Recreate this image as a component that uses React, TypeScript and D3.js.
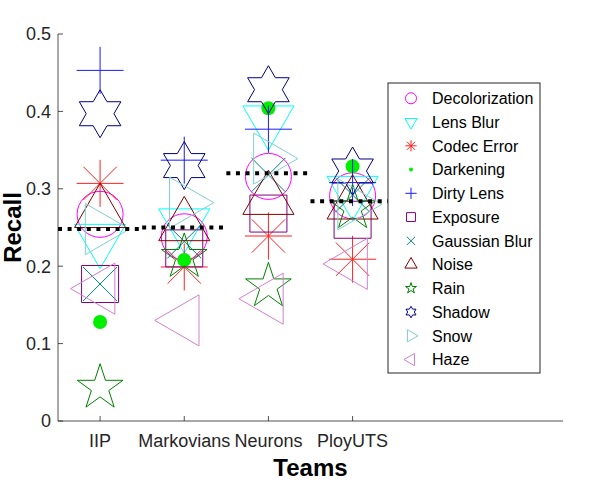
import React from "react";
import * as d3 from "d3";

const teams = ["IIP", "Markovians", "Neurons", "PloyUTS"];
const yTicks = [0, 0.1, 0.2, 0.3, 0.4, 0.5];

// Recall per degradation, one value per team
const decolorization = [0.267, 0.238, 0.316, 0.291];
const lensBlur = [0.235, 0.255, 0.388, 0.297];
const codecError = [0.307, 0.199, 0.239, 0.209];
const darkening = [0.128, 0.208, 0.404, 0.329];
const dirtyLens = [0.453, 0.337, 0.377, 0.308];
const exposure = [0.177, 0.223, 0.268, 0.26];
const gaussianBlur = [0.177, 0.232, 0.318, 0.292];
const noise = [0.269, 0.252, 0.286, 0.28];
const rain = [0.043, 0.212, 0.174, 0.275];
const shadow = [0.397, 0.33, 0.428, 0.323];
const snow = [0.248, 0.282, 0.339, 0.28];
const haze = [0.171, 0.13, 0.158, 0.203];
const teamMeans = [0.248, 0.25, 0.32, 0.284];

const seriesNames = [
  "Decolorization", "Lens Blur", "Codec Error", "Darkening", "Dirty Lens", "Exposure",
  "Gaussian Blur", "Noise", "Rain", "Shadow", "Snow", "Haze",
];
const seriesValues = [
  decolorization, lensBlur, codecError, darkening, dirtyLens, exposure,
  gaussianBlur, noise, rain, shadow, snow, haze,
];

type Shape = "circle" | "tdown" | "asterisk" | "dot" | "plus" | "square" | "x" | "tup" | "pent" | "hex" | "tright" | "tleft";
const shapes: Shape[] = ["circle", "tdown", "asterisk", "dot", "plus", "square", "x", "tup", "pent", "hex", "tright", "tleft"];
const colors = [
  "#ff00ff", "#00ffff", "#ff2020", "#00ee00", "#1a1aff", "#800080",
  "#008080", "#800000", "#008000", "#000080", "#80d0d0", "#d080d0",
];

const FONT = "'Liberation Sans', Arial, Helvetica, sans-serif";
const AX = "#262626";

function star(n: number, ro: number, ri: number): string {
  const pts: string[] = [];
  for (let i = 0; i < 2 * n; i++) {
    const r = i % 2 === 0 ? ro : ri;
    const a = -Math.PI / 2 + (i * Math.PI) / n;
    pts.push(`${(r * Math.cos(a)).toFixed(2)},${(r * Math.sin(a)).toFixed(2)}`);
  }
  return "M" + pts.join("L") + "Z";
}

function markerPath(shape: Shape, s: number): string {
  const s60 = Math.sin(Math.PI / 3);
  switch (shape) {
    case "tup": { const r = 29.5 * s; return `M0,${-r}L${r * s60},${r / 2}L${-r * s60},${r / 2}Z`; }
    case "tdown": { const r = 29.5 * s; return `M0,${r}L${r * s60},${-r / 2}L${-r * s60},${-r / 2}Z`; }
    case "tright": { const r = 29.5 * s; return `M${r},0L${-r / 2},${r * s60}L${-r / 2},${-r * s60}Z`; }
    case "tleft": { const r = 29.5 * s; return `M${-r},0L${r / 2},${r * s60}L${r / 2},${-r * s60}Z`; }
    case "plus": { const r = 23.5 * s; return `M${-r},0H${r}M0,${-r}V${r}`; }
    case "x": { const d = 17 * s; return `M${-d},${-d}L${d},${d}M${-d},${d}L${d},${-d}`; }
    case "asterisk": {
      const r = 23.5 * s; const d = r * 0.7071;
      return `M${-r},0H${r}M0,${-r}V${r}M${-d},${-d}L${d},${d}M${-d},${d}L${d},${-d}`;
    }
    case "square": { const h = 18.5 * s; return `M${-h},${-h}H${h}V${h}H${-h}Z`; }
    case "pent": { const r = 24 * s; return star(5, r, r * 0.382); }
    case "hex": { const r = 24 * s; return star(6, r, r / Math.sqrt(3)); }
    default: return "";
  }
}

function Marker({ shape, color, x, y, s }: { shape: Shape; color: string; x: number; y: number; s: number }) {
  if (shape === "circle") {
    return <circle cx={x} cy={y} r={23 * s} fill="none" stroke={color} strokeWidth={1} />;
  }
  if (shape === "dot") {
    return <circle cx={x} cy={y} r={s === 1 ? 7 : 2} fill={color} stroke="none" />;
  }
  return (
    <path d={markerPath(shape, s)} transform={`translate(${x},${y})`} fill="none" stroke={color} strokeWidth={1} strokeLinejoin="miter" />
  );
}

export default function App() {
  const W = 598, H = 483;
  const x = d3.scaleLinear().domain([0.5, 6.5]).range([58, 563]);
  const y = d3.scaleLinear().domain([0, 0.5]).range([421, 34]);

  const legendX0 = 388, legendY0 = 83, legendX1 = 540, legendY1 = 373;
  const rowY = (i: number) => 98.3 + i * 23.75;

  return (
    <svg width={W} height={H} style={{ position: "fixed", left: 0, top: 0, background: "#fff" }} fontFamily={FONT}>
      <rect x={0} y={0} width={W} height={H} fill="#fff" />
      {/* axes */}
      <line x1={x(0.5)} x2={x(6.5)} y1={y(0)} y2={y(0)} stroke={AX} strokeWidth={1} opacity={0.8} />
      <line x1={x(0.5)} x2={x(0.5)} y1={y(0)} y2={y(0.5)} stroke={AX} strokeWidth={1} opacity={0.8} />
      {yTicks.map((t) => (
        <g key={t}>
          <line x1={x(0.5)} x2={x(0.5) + 5} y1={y(t)} y2={y(t)} stroke={AX} opacity={0.8} />
          <text x={x(0.5) - 7} y={y(t)} dy="0.35em" textAnchor="end" fontSize={18} fill={AX}>
            {d3.format("")(t)}
          </text>
        </g>
      ))}
      {teams.map((t, i) => (
        <g key={t}>
          <line x1={x(i + 1)} x2={x(i + 1)} y1={y(0)} y2={y(0) - 5} stroke={AX} opacity={0.8} />
          <text x={x(i + 1)} y={y(0) + 26} textAnchor="middle" fontSize={18} fill={AX}>{t}</text>
        </g>
      ))}
      <text x={(x(0.5) + x(6.5)) / 2} y={476} textAnchor="middle" fontSize={24} fontWeight="bold" fill="#000">Teams</text>
      <text transform={`translate(${21},${(y(0) + y(0.5)) / 2}) rotate(-90)`} textAnchor="middle" fontSize={24} fontWeight="bold" fill="#000">Recall</text>

      {/* markers */}
      {seriesValues.map((vals, si) => (
        <g key={seriesNames[si]}>
          {vals.map((v, ti) => (
            <Marker key={ti} shape={shapes[si]} color={colors[si]} x={x(ti + 1)} y={y(v)} s={1} />
          ))}
        </g>
      ))}

      {/* mean lines */}
      {teamMeans.map((m, i) => (
        <line key={i} x1={x(i + 0.5)} x2={x(i + 1.5)} y1={y(m)} y2={y(m)} stroke="#000" strokeWidth={4} strokeDasharray="4 5.6" />
      ))}

      {/* legend */}
      <rect x={legendX0} y={legendY0} width={legendX1 - legendX0} height={legendY1 - legendY0} fill="#fff" stroke={AX} strokeWidth={1} />
      {seriesNames.map((n, i) => (
        <g key={n}>
          <Marker shape={shapes[i]} color={colors[i]} x={411} y={rowY(i)} s={0.24} />
          <text x={432} y={rowY(i)} dy="0.36em" fontSize={16} fill="#000">{n}</text>
        </g>
      ))}
    </svg>
  );
}
